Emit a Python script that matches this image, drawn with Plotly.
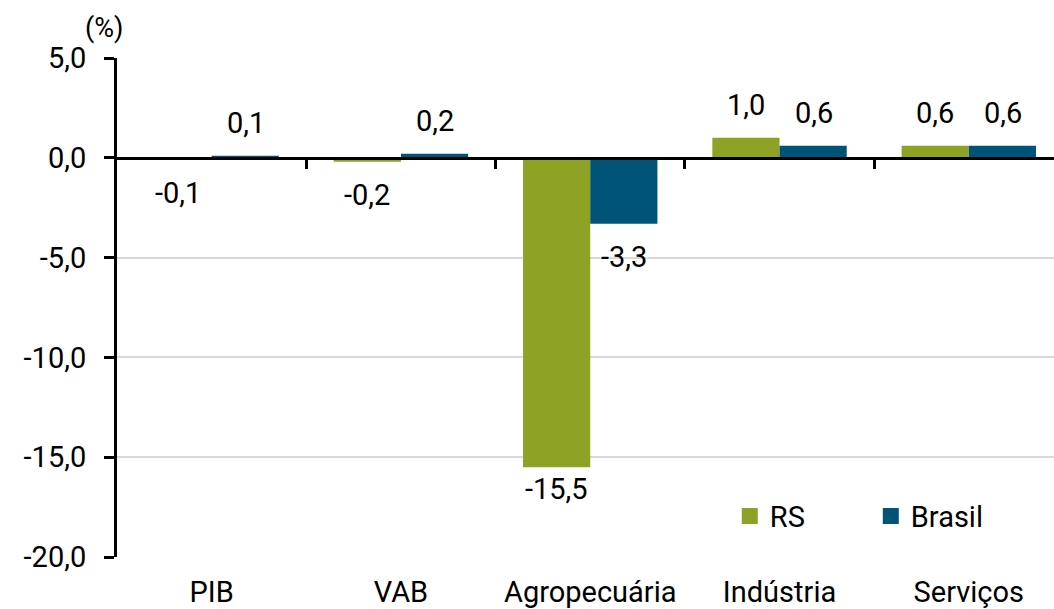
import plotly.graph_objects as go

categories = ["PIB", "VAB", "Agropecuária", "Indústria", "Serviços"]
rs_values = [-0.1, -0.2, -15.5, 1.0, 0.6]
brasil_values = [0.1, 0.2, -3.3, 0.6, 0.6]
series_names = ["RS", "Brasil"]
y_ticks = [5, 0, -5, -10, -15, -20]
y_tick_labels = ["5,0", "0,0", "-5,0", "-10,0", "-15,0", "-20,0"]

# label offsets (pixels) away from the bar end, per series
rs_label_gap = [14, 14, 3, 14, 14]
brasil_label_gap = [14, 14, 14, 14, 14]

GREEN = "#8EA226"
BLUE = "#005478"
FONT = "Roboto"
FS = 29

def fmt(v):
    return f"{v:.1f}".replace(".", ",")

fig = go.Figure()
fig.add_trace(go.Bar(x=categories, y=rs_values, name=series_names[0],
                     marker=dict(color=GREEN, line=dict(width=0)), showlegend=False))
fig.add_trace(go.Bar(x=categories, y=brasil_values, name=series_names[1],
                     marker=dict(color=BLUE, line=dict(width=0)), showlegend=False))
# legend proxies with larger square symbols
for name, col in zip(series_names, [GREEN, BLUE]):
    fig.add_trace(go.Scatter(x=[None], y=[None], mode="markers", name=name,
                             marker=dict(symbol="square", size=18, color=col)))

# overlay axis at y=0 for the category tick marks
fig.add_trace(go.Scatter(x=categories, y=[None]*len(categories), xaxis="x2",
                         showlegend=False, hoverinfo="skip"))

annotations = []
for vals, gaps, shift in [(rs_values, rs_label_gap, -34), (brasil_values, brasil_label_gap, 34)]:
    for c, v, g in zip(categories, vals, gaps):
        annotations.append(dict(
            x=c, y=v, xref="x", yref="y", text=fmt(v), showarrow=False,
            xshift=shift, yanchor="bottom" if v >= 0 else "top",
            yshift=g if v >= 0 else -g,
            font=dict(family=FONT, size=FS, color="black")))
annotations.append(dict(x=-0.014, y=1.06, xref="paper", yref="paper", text="(%)",
                        showarrow=False, xanchor="center", yanchor="middle",
                        font=dict(family=FONT, size=27, color="black")))

fig.update_layout(
    width=1054, height=609,
    margin=dict(l=117, r=0, t=58, b=52),
    paper_bgcolor="white", plot_bgcolor="white",
    barmode="group", bargap=0.29, bargroupgap=0,
    font=dict(family=FONT, size=FS, color="black"),
    xaxis=dict(range=[-0.5, 4.45], showline=False, ticks="", showgrid=False,
               tickfont=dict(family=FONT, size=FS, color="black"),
               ticklabelstandoff=15, fixedrange=True, automargin=False),
    xaxis2=dict(overlaying="x", anchor="free", position=0.8, range=[-0.5, 4.45],
                tickmode="array", tickvals=[0.5, 1.5, 2.5, 3.5],
                showticklabels=False, ticks="outside", ticklen=9, tickwidth=2.5,
                tickcolor="black", showline=True, linecolor="black", linewidth=3,
                showgrid=False, layer="above traces", automargin=False),
    yaxis=dict(range=[-20, 5], tickmode="array", tickvals=y_ticks, ticktext=y_tick_labels,
               showline=True, linecolor="black", linewidth=3, ticks="outside",
               ticklen=10, tickwidth=2.5, tickcolor="black",
               showgrid=True, gridcolor="#d9d9d9", gridwidth=1.5, zeroline=False,
               tickfont=dict(family=FONT, size=FS, color="black"),
               ticklabelstandoff=12, automargin=False),
    legend=dict(orientation="h", x=0.654, xanchor="left", y=0.082, yanchor="middle",
                entrywidth=96, entrywidthmode="pixels",
                font=dict(family=FONT, size=FS, color="black"),
                bgcolor="rgba(0,0,0,0)", itemwidth=30, tracegroupgap=0),
    annotations=annotations,
)

fig.write_html("out.html", config={"displayModeBar": False},
               post_script="document.body.style.margin='0';document.body.style.overflow='hidden';")
